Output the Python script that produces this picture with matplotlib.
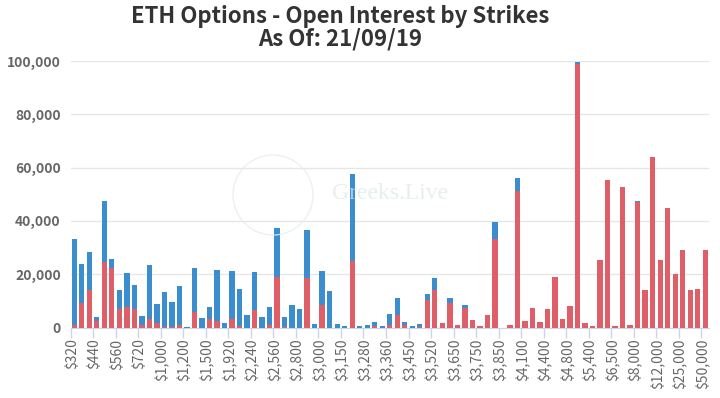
import matplotlib
matplotlib.use("Agg")
import matplotlib.pyplot as plt
import numpy as np
from matplotlib.patches import Circle

# Every third strike label (the chart only shows every third category)
tick_labels = ["$320", "$440", "$560", "$720", "$1,000", "$1,200", "$1,500", "$1,920",
               "$2,240", "$2,560", "$2,800", "$3,000", "$3,150", "$3,280", "$3,360",
               "$3,450", "$3,520", "$3,650", "$3,750", "$3,850", "$4,100", "$4,400",
               "$4,800", "$5,400", "$6,500", "$8,000", "$12,000", "$25,000", "$50,000"]
label_step = 3

# Calls (red, bottom of stack) open interest per strike
calls = [1100, 9300, 14200, 2400, 24400, 22500, 7000, 7800, 7000, 800,
         3300, 1600, 300, 200, 1000, 0, 5700, 0, 3100, 2500,
         0, 3100, 400, 0, 6400, 0, 900, 18900, 300, 0,
         0, 18400, 0, 8550, 0, 0, 0, 24900, 0, 0,
         400, 0, 1000, 4650, 900, 0, 200, 10300, 14000, 1760,
         9300, 880, 7400, 2770, 630, 4800, 33100, 0, 880, 51300,
         2500, 7400, 2000, 7050, 19000, 3150, 7900, 98900, 1870, 620,
         25200, 55300, 750, 52700, 1000, 47200, 14100, 63900, 25300, 44700,
         20100, 28900, 14200, 14600, 28900]

# Puts (blue, top of stack) open interest per strike
puts = [32200, 14350, 14000, 1400, 22900, 3300, 7000, 12800, 8850, 3500,
        20000, 7200, 12900, 9500, 14700, 300, 16600, 3500, 4600, 19000,
        1800, 18150, 14200, 4800, 14500, 3900, 6900, 18500, 3700, 8550,
        7050, 18300, 1500, 12550, 13700, 1300, 400, 32700, 750, 1000,
        1600, 600, 3900, 6550, 1100, 500, 1100, 2150, 4600, 0,
        1770, 0, 1150, 0, 0, 0, 6650, 0, 0, 4700,
        0, 0, 0, 0, 0, 0, 0, 800, 0, 0,
        0, 0, 0, 0, 0, 300, 0, 0, 0, 0,
        0, 0, 0, 0, 0]

yticks = [0, 20000, 40000, 60000, 80000, 100000]

RED = "#df5f68"
BLUE = "#3a8ecf"
FONT = ["Noto Sans CJK SC", "DejaVu Sans"]

fig = plt.figure(figsize=(7.2, 3.98), dpi=100)
ax = fig.add_axes([70.5 / 720, 1 - 327.5 / 398, (709 - 70.5) / 720, (327.5 - 61) / 398])

x = np.arange(len(calls))
ax.bar(x, calls, width=0.71, color=RED, zorder=3)
ax.bar(x, puts, width=0.71, bottom=calls, color=BLUE, zorder=3)

ax.set_xlim(-0.5, len(calls) - 0.5)
ax.set_ylim(0, 100000)

ax.set_yticks(yticks)
ax.set_yticklabels([f"{v:,}" for v in yticks], fontsize=10, color="#666666",
                   fontweight="bold", family=FONT)
ax.tick_params(axis="y", length=0, pad=7)
ax.yaxis.grid(True, color="#e6e6e6", linewidth=1, zorder=0)

label_pos = np.arange(0, len(calls), label_step)
ax.set_xticks(label_pos - 0.3)
ax.set_xticklabels(tick_labels, rotation=90, fontsize=10, color="#666666",
                   family=FONT)
ax.tick_params(axis="x", which="major", length=0, pad=8)
ax.set_xticks(label_pos - 0.5, minor=True)
ax.tick_params(axis="x", which="minor", length=7, color="#ccd6eb", width=1)

for s in ["left", "right", "top"]:
    ax.spines[s].set_visible(False)
ax.spines["bottom"].set_color("#ccd6eb")

# Title
fig.text(340 / 720, 1 - 17 / 398, "ETH Options - Open Interest by Strikes", ha="center",
         va="center", fontsize=16, fontweight="bold", color="#333333", family=FONT)
fig.text(340 / 720, 1 - 39 / 398, "As Of: 21/09/19", ha="center",
         va="center", fontsize=16, fontweight="bold", color="#333333", family=FONT)

# Faint watermark
fig.text(390 / 720, 1 - 193 / 398, "Greeks.Live", ha="center", va="center", fontsize=17,
         color="#dde8e8", alpha=0.7, family="Liberation Serif", zorder=1)
circ = Circle((273, 398 - 195), 40, transform=None, facecolor="none",
              edgecolor="#e4eeee", linewidth=1.0, alpha=0.8, zorder=1)
fig.patches.append(circ)

fig.savefig("out.png", dpi=100, facecolor="white")
